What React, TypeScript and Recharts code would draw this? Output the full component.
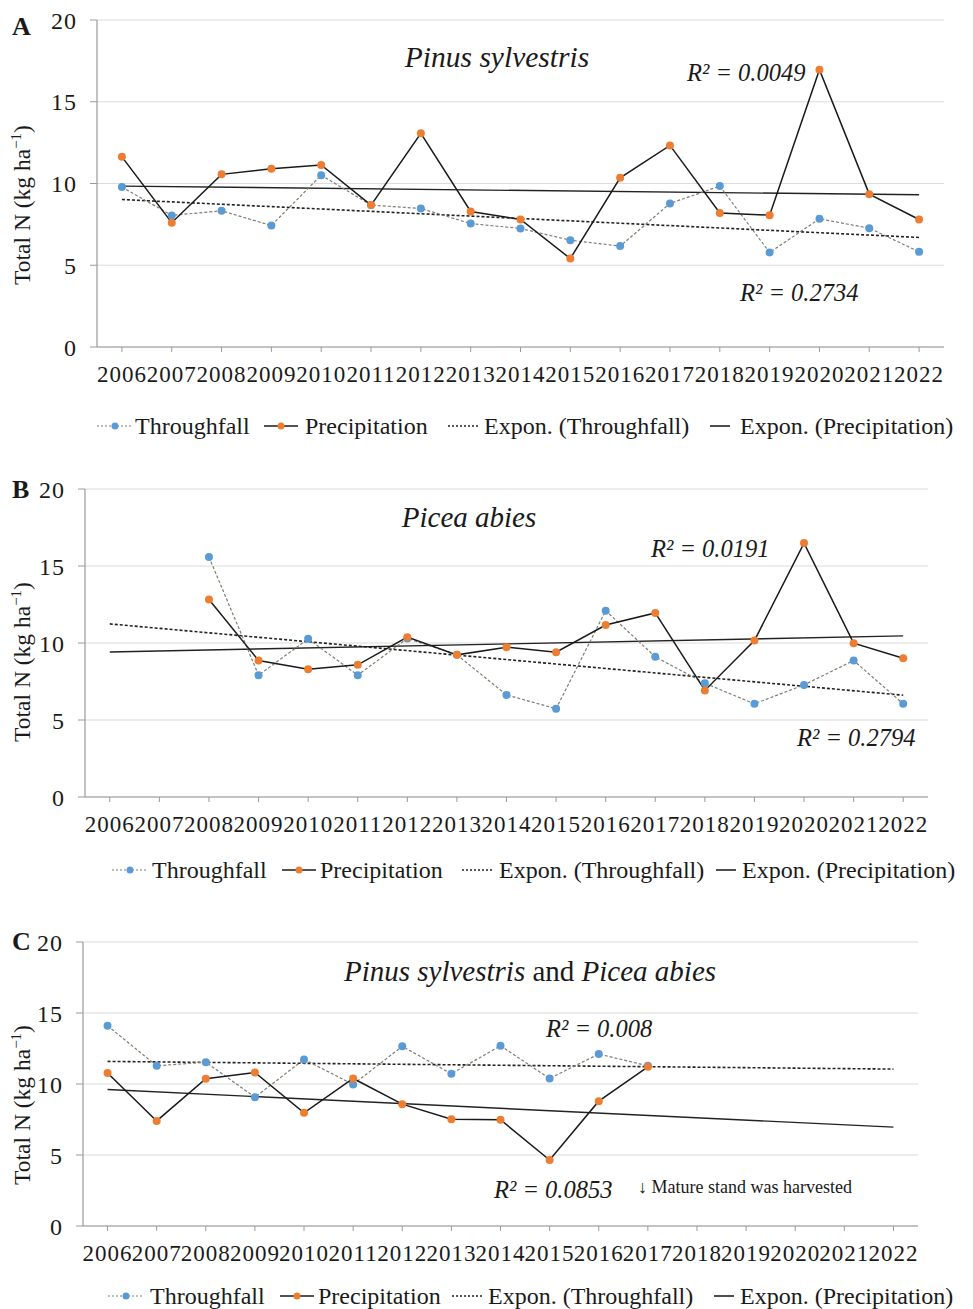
import React from 'react';
import { LineChart, Line, XAxis, YAxis, CartesianGrid } from 'recharts';

const years = ['2006', '2007', '2008', '2009', '2010', '2011', '2012', '2013', '2014', '2015', '2016', '2017', '2018', '2019', '2020', '2021', '2022'];
const yTicks = [0, 5, 10, 15, 20];

// Panel A – Pinus sylvestris
const pinusThroughfall = [9.78, 8.05, 8.33, 7.43, 10.51, 8.68, 8.47, 7.55, 7.25, 6.53, 6.17, 8.78, 9.84, 5.78, 7.84, 7.27, 5.82];
const pinusPrecipitation = [11.63, 7.6, 10.56, 10.9, 11.13, 8.68, 13.07, 8.29, 7.8, 5.41, 10.35, 12.33, 8.2, 8.06, 16.96, 9.35, 7.8];
const pinusExpThroughfall = [9.02, 6.7]; // trend at 2006 and 2022
const pinusExpPrecipitation = [9.84, 9.31];

// Panel B – Picea abies
const piceaThroughfall = [null, null, 15.58, 7.91, 10.27, 7.91, 10.3, 9.23, 6.63, 5.73, 12.1, 9.1, 7.39, 6.05, 7.28, 8.86, 6.05];
const piceaPrecipitation = [null, null, 12.82, 8.86, 8.3, 8.58, 10.38, 9.23, 9.73, 9.4, 11.17, 11.95, 6.92, 10.16, 16.49, 9.99, 9.01];
const piceaExpThroughfall = [11.24, 6.61];
const piceaExpPrecipitation = [9.42, 10.46];

// Panel C – Pinus sylvestris and Picea abies
const mixedThroughfall = [14.1, 11.28, 11.54, 9.07, 11.73, 9.97, 12.65, 10.72, 12.69, 10.39, 12.11, 11.28, null, null, null, null, null];
const mixedPrecipitation = [10.77, 7.4, 10.37, 10.81, 7.97, 10.39, 8.58, 7.52, 7.48, 4.65, 8.79, 11.21, null, null, null, null, null];
const mixedExpThroughfall = [11.59, 11.05];
const mixedExpPrecipitation = [9.61, 6.96];

const legendLabels = ['Throughfall', 'Precipitation', 'Expon. (Throughfall)', 'Expon. (Precipitation)'];

const FONT = '"Liberation Serif", "Times New Roman", serif';
const BLUE = '#5B9BD5';
const ORANGE = '#ED7D31';
const INK = '#1a1a1a';

function buildRows(tf: (number | null)[], pr: (number | null)[], etf: number[], epr: number[]) {
  const last = years.length - 1;
  return years.map((year, i) => ({
    year,
    tf: tf[i],
    pr: pr[i],
    etf: i === 0 ? etf[0] : i === last ? etf[1] : null,
    epr: i === 0 ? epr[0] : i === last ? epr[1] : null,
  }));
}

const makeDot = (color: string) => (p: any) => {
  if (p.value == null || p.cx == null || p.cy == null) return <g key={p.key} />;
  return <circle key={p.key} cx={p.cx} cy={p.cy} r={4} fill={color} stroke="none" />;
};

type PanelProps = {
  top: number;
  plotHeight: number;
  yAxisWidth: number;
  rightMargin: number;
  rows: any[];
};

function Panel({ top, plotHeight, yAxisWidth, rightMargin, rows }: PanelProps) {
  const height = 20 + plotHeight + 50;
  const plotWidth = 973 - yAxisWidth - rightMargin;
  const pad = plotWidth / years.length / 2;
  return (
    <div style={{ position: 'absolute', left: 0, top }}>
      <LineChart width={973} height={height} data={rows} margin={{ top: 20, right: rightMargin, bottom: 0, left: 0 }}>
        <CartesianGrid vertical={false} stroke="#dcdcdc" strokeWidth={1.2} />
        <XAxis
          dataKey="year"
          interval={0}
          height={50}
          padding={{ left: pad, right: pad }}
          axisLine={{ stroke: '#9a9a9a', strokeWidth: 1.2 }}
          tickLine={{ stroke: '#9a9a9a' }}
          tickSize={5}
          tickMargin={14}
          tick={{ fontFamily: FONT, fontSize: 23, fill: INK, letterSpacing: 1 }}
        />
        <YAxis
          domain={[0, 20]}
          ticks={yTicks}
          width={yAxisWidth}
          axisLine={{ stroke: '#9a9a9a', strokeWidth: 1.2 }}
          tickLine={{ stroke: '#9a9a9a' }}
          tickSize={7}
          tickMargin={13}
          tick={{ fontFamily: FONT, fontSize: 24, fill: INK, letterSpacing: 1 }}
        />
        <Line dataKey="epr" stroke="#222" strokeWidth={1.4} dot={false} activeDot={false} connectNulls isAnimationActive={false} />
        <Line dataKey="etf" stroke="#222" strokeWidth={1.6} strokeDasharray="3 2" dot={false} activeDot={false} connectNulls isAnimationActive={false} />
        <Line dataKey="tf" stroke="#7d7d70" strokeWidth={1.2} strokeDasharray="3 2" dot={makeDot(BLUE)} activeDot={false} isAnimationActive={false} />
        <Line dataKey="pr" stroke={INK} strokeWidth={1.5} dot={makeDot(ORANGE)} activeDot={false} isAnimationActive={false} />
      </LineChart>
    </div>
  );
}

function LegendRow({ top, iconLefts, textLefts }: { top: number; iconLefts: number[]; textLefts: number[] }) {
  const icons = [
    <svg width={36} height={14} style={{ display: 'block' }}>
      <line x1={0} y1={7} x2={36} y2={7} stroke="#7d7d70" strokeWidth={1.2} strokeDasharray="2 2" />
      <circle cx={18} cy={7} r={3.5} fill={BLUE} />
    </svg>,
    <svg width={34} height={14} style={{ display: 'block' }}>
      <line x1={0} y1={7} x2={34} y2={7} stroke={INK} strokeWidth={1.5} />
      <circle cx={17} cy={7} r={3.5} fill={ORANGE} />
    </svg>,
    <svg width={30} height={14} style={{ display: 'block' }}>
      <line x1={0} y1={7} x2={30} y2={7} stroke="#222" strokeWidth={1.4} strokeDasharray="2 2" />
    </svg>,
    <svg width={20} height={14} style={{ display: 'block' }}>
      <line x1={0} y1={7} x2={20} y2={7} stroke="#222" strokeWidth={1.6} />
    </svg>,
  ];
  return (
    <>
      {legendLabels.map((label, i) => (
        <React.Fragment key={label}>
          <div style={{ position: 'absolute', left: iconLefts[i], top: top - 7 }}>{icons[i]}</div>
          <div
            style={{
              position: 'absolute',
              left: textLefts[i],
              top,
              transform: 'translateY(-50%)',
              fontFamily: FONT,
              fontSize: 24,
              color: INK,
              whiteSpace: 'nowrap',
              lineHeight: 1,
            }}
          >
            {label}
          </div>
        </React.Fragment>
      ))}
    </>
  );
}

function Txt({ x, y, children, size = 24.5, italic = false, bold = false, center = false }: any) {
  return (
    <div
      style={{
        position: 'absolute',
        left: x,
        top: y,
        transform: center ? 'translate(-50%, -50%)' : 'translateY(-50%)',
        fontFamily: FONT,
        fontSize: size,
        fontStyle: italic ? 'italic' : 'normal',
        fontWeight: bold ? 700 : 400,
        color: INK,
        whiteSpace: 'nowrap',
        lineHeight: 1,
      }}
    >
      {children}
    </div>
  );
}

function YLabel({ y }: { y: number }) {
  return (
    <div
      style={{
        position: 'absolute',
        left: 23,
        top: y,
        transform: 'translate(-50%, -50%) rotate(-90deg)',
        fontFamily: FONT,
        fontSize: 23.5,
        color: INK,
        whiteSpace: 'nowrap',
        lineHeight: 1,
      }}
    >
      Total N (kg ha<sup style={{ fontSize: 15, lineHeight: 0 }}>−1</sup>)
    </div>
  );
}

export default function App() {
  const rowsA = buildRows(pinusThroughfall, pinusPrecipitation, pinusExpThroughfall, pinusExpPrecipitation);
  const rowsB = buildRows(piceaThroughfall, piceaPrecipitation, piceaExpThroughfall, piceaExpPrecipitation);
  const rowsC = buildRows(mixedThroughfall, mixedPrecipitation, mixedExpThroughfall, mixedExpPrecipitation);
  return (
    <div style={{ position: 'absolute', left: 0, top: 0, width: 973, height: 1309, background: '#fff', overflow: 'hidden' }}>
      <Panel top={0} plotHeight={327} yAxisWidth={97} rightMargin={29} rows={rowsA} />
      <Panel top={469} plotHeight={308} yAxisWidth={85} rightMargin={45} rows={rowsB} />
      <Panel top={922} plotHeight={284} yAxisWidth={83} rightMargin={55} rows={rowsC} />

      <Txt x={12} y={27} size={26} bold>A</Txt>
      <Txt x={12} y={490} size={26} bold>B</Txt>
      <Txt x={12} y={942} size={26} bold>C</Txt>

      <YLabel y={205} />
      <YLabel y={662} />
      <YLabel y={1105} />

      <Txt x={497} y={58} size={29.5} italic center>Pinus sylvestris</Txt>
      <Txt x={687} y={73} italic>R² = 0.0049</Txt>
      <Txt x={740} y={293} italic>R² = 0.2734</Txt>

      <Txt x={469} y={517} size={29} italic center>Picea abies</Txt>
      <Txt x={651} y={549} italic>R² = 0.0191</Txt>
      <Txt x={797} y={738} italic>R² = 0.2794</Txt>

      <Txt x={530} y={971} size={29} center>
        <i>Pinus sylvestris</i> and <i>Picea abies</i>
      </Txt>
      <Txt x={546} y={1029} italic>R² = 0.008</Txt>
      <Txt x={494} y={1190} italic>R² = 0.0853</Txt>
      <Txt x={638} y={1187} size={18}>↓ Mature stand was harvested</Txt>

      <LegendRow top={426} iconLefts={[97, 264, 448, 710]} textLefts={[135, 305, 484, 740]} />
      <LegendRow top={870} iconLefts={[112, 282, 462, 716]} textLefts={[152, 320, 499, 742]} />
      <LegendRow top={1296} iconLefts={[108, 280, 452, 714]} textLefts={[150, 318, 488, 740]} />
    </div>
  );
}
